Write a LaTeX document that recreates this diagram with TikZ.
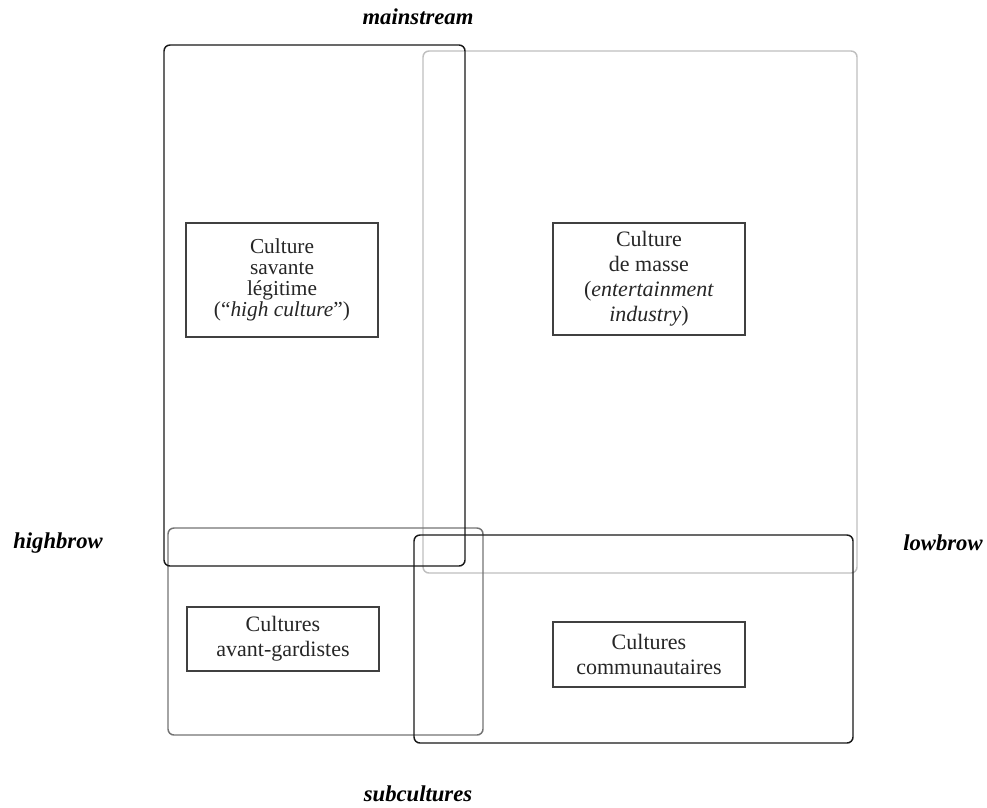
\documentclass[tikz,border=0pt]{standalone}
\usepackage{fontspec}
\setmainfont{Liberation Serif}
\begin{document}
\begin{tikzpicture}[x=0.75pt,y=-0.75pt,
  blackbox/.style={draw=black!90, line width=1.1pt, rounded corners=4.5pt},
  graybox/.style={draw=black!25, line width=1.1pt, rounded corners=4.5pt},
  midbox/.style={draw=black!55, line width=1.1pt, rounded corners=4.5pt},
  inbox/.style={draw=black!75, line width=1pt, align=center, inner sep=0pt,
    minimum width=144pt, text=black!85},
  tightfont/.style={font=\fontsize{16}{15.6}\selectfont},
  widefont/.style={font=\fontsize{16.5}{18.8}\selectfont},
  axislabel/.style={font=\fontsize{17}{20}\selectfont\bfseries\itshape, inner sep=0pt}]
\useasboundingbox (0,0) rectangle (987,807);

% large regions
\draw[graybox] (423,51) rectangle (857,573);
\draw[midbox] (168,528) rectangle (483,735);
\draw[blackbox] (164,45) rectangle (465,566);
\draw[blackbox] (414,535) rectangle (853,743);

% inner boxes
\node[inbox, tightfont, minimum height=85.5pt] (savante) at (282,280)
  {Culture\\savante\\légitime\\(“\textit{high culture}”)};
\node[inbox, widefont, minimum height=84pt] (masse) at (649,279)
  {Culture\\de masse\\(\textit{entertainment}\\\textit{industry})};
\node[inbox, widefont, minimum height=48pt] (avant) at (283,639)
  {Cultures\\avant-gardistes};
\node[inbox, widefont, minimum height=48.75pt] (commu) at (649,654.5)
  {Cultures\\communautaires};

% axis labels
\node[axislabel] (mainstream) at (418,17) {mainstream};
\node[axislabel] (highbrow) at (58,543) {highbrow};
\node[axislabel] (lowbrow) at (943,543) {lowbrow};
\node[axislabel] (subcultures) at (418,794) {subcultures};
\end{tikzpicture}
\end{document}
